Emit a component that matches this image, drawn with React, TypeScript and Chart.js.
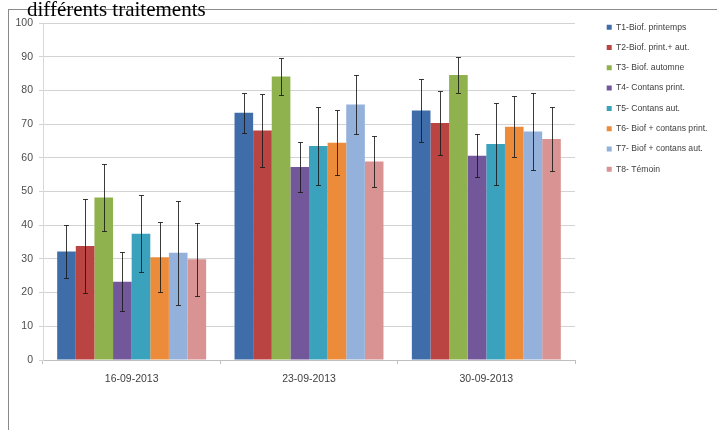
import React, { useEffect, useRef } from "react";
import { Chart, registerables } from "chart.js";

Chart.register(...registerables);

const categories = ["16-09-2013", "23-09-2013", "30-09-2013"];

const seriesLabels = [
  "T1-Biof. printemps",
  "T2-Biof. print.+ aut.",
  "T3- Biof. automne",
  "T4- Contans print.",
  "T5- Contans aut.",
  "T6- Biof + contans print.",
  "T7- Biof + contans aut.",
  "T8- Témoin",
];

const seriesColors = [
  "#3F6DAA",
  "#B94442",
  "#8FB24E",
  "#73579B",
  "#3AA2BD",
  "#EC8C3A",
  "#94B1DB",
  "#D89392",
];

const t1Values = [32.2, 73.4, 74.0];
const t2Values = [33.8, 68.1, 70.3];
const t3Values = [48.2, 84.1, 84.6];
const t4Values = [23.2, 57.3, 60.6];
const t5Values = [37.5, 63.5, 64.1];
const t6Values = [30.5, 64.5, 69.2];
const t7Values = [31.8, 75.8, 67.8];
const t8Values = [29.9, 58.9, 65.6];

const t1Errors = [7.9, 5.9, 9.3];
const t2Errors = [14.0, 10.9, 9.4];
const t3Errors = [10.0, 5.6, 5.4];
const t4Errors = [8.7, 7.5, 6.4];
const t5Errors = [11.5, 11.6, 12.2];
const t6Errors = [10.4, 9.7, 9.0];
const t7Errors = [15.5, 8.8, 11.5];
const t8Errors = [10.8, 7.5, 9.4];

const yTicks = [0, 10, 20, 30, 40, 50, 60, 70, 80, 90, 100];

const seriesValues = [t1Values, t2Values, t3Values, t4Values, t5Values, t6Values, t7Values, t8Values];
const seriesErrors = [t1Errors, t2Errors, t3Errors, t4Errors, t5Errors, t6Errors, t7Errors, t8Errors];

const errorBarPlugin = {
  id: "errorBars",
  afterDatasetsDraw(chart: any) {
    const { ctx } = chart;
    const yScale = chart.scales.y;
    ctx.save();
    ctx.strokeStyle = "rgba(25,25,25,0.85)";
    ctx.lineWidth = 1;
    chart.data.datasets.forEach((ds: any, i: number) => {
      const meta = chart.getDatasetMeta(i);
      const errs = seriesErrors[i];
      meta.data.forEach((bar: any, j: number) => {
        const v = ds.data[j] as number;
        const e = errs[j];
        const x = Math.round(bar.x) + 0.5;
        const yTop = Math.round(yScale.getPixelForValue(v + e)) + 0.5;
        const yBot = Math.round(yScale.getPixelForValue(v - e)) + 0.5;
        ctx.beginPath();
        ctx.moveTo(x, yTop);
        ctx.lineTo(x, yBot);
        ctx.moveTo(x - 2.5, yTop);
        ctx.lineTo(x + 2.5, yTop);
        ctx.moveTo(x - 2.5, yBot);
        ctx.lineTo(x + 2.5, yBot);
        ctx.stroke();
      });
    });
    ctx.restore();
  },
};

const tickFont = { family: "'Liberation Sans', Arial, sans-serif", size: 10.5 };

export default function App() {
  const canvasRef = useRef<HTMLCanvasElement | null>(null);

  useEffect(() => {
    if (!canvasRef.current) return;
    const chart = new Chart(canvasRef.current, {
      type: "bar",
      data: {
        labels: categories,
        datasets: seriesLabels.map((label, i) => ({
          label,
          data: seriesValues[i],
          backgroundColor: seriesColors[i],
          borderWidth: 0,
          yAxisID: "y",
        })),
      },
      options: {
        animation: false,
        responsive: true,
        maintainAspectRatio: false,
        layout: { padding: { top: 11.2, right: 26, bottom: 0, left: 0 } },
        datasets: { bar: { categoryPercentage: 0.84, barPercentage: 1 } },
        plugins: {
          title: {
            display: true,
            text: " ",
            fullSize: false,
            padding: 0,
            font: { size: 10, lineHeight: 1.18 },
          },
          legend: {
            position: "right",
            align: "start",
            labels: {
              boxWidth: 5,
              boxHeight: 5,
              padding: 11.7,
              color: "#404040",
              font: { family: "'Liberation Sans', Arial, sans-serif", size: 8.6 },
            },
          },
          tooltip: { enabled: false },
        },
        scales: {
          x: {
            grid: {
              display: true,
              drawOnChartArea: false,
              offset: true,
              tickLength: 4,
              color: "#bfbfbf",
            },
            border: { color: "#bfbfbf" },
            ticks: { padding: 8.5, color: "#404040", font: tickFont },
            afterFit: (s: any) => {
              s.height = 70;
            },
          },
          y: {
            min: 0,
            max: 100,
            afterBuildTicks: (s: any) => {
              s.ticks = yTicks.map((v) => ({ value: v }));
            },
            ticks: { padding: 6, color: "#4d4d4d", font: tickFont },
            grid: { color: "#d3d3d3", tickLength: 4 },
            border: { color: "#d9d9d9" },
            afterFit: (s: any) => {
              s.width = 43;
            },
          },
          sp: {
            type: "linear",
            axis: "y",
            position: "right",
            display: true,
            grid: { display: false },
            border: { display: false },
            ticks: { display: false },
            afterFit: (s: any) => {
              s.width = 20;
            },
          },
        } as any,
      },
      plugins: [errorBarPlugin],
    });
    return () => chart.destroy();
  }, []);

  return (
    <div
      style={{
        position: "fixed",
        left: 0,
        top: 0,
        width: 717,
        height: 430,
        overflow: "hidden",
        background: "#fff",
      }}
    >
      <div
        style={{
          position: "absolute",
          left: 8,
          top: 9,
          width: 800,
          height: 500,
          borderLeft: "1px solid #8a8a8a",
          borderTop: "1px solid #8a8a8a",
        }}
      />
      <div style={{ position: "absolute", left: 0, top: 0, width: 740, height: 430 }}>
        <canvas ref={canvasRef} />
      </div>
      <div
        style={{
          position: "absolute",
          left: 27,
          top: -1,
          font: "21px/21px 'Liberation Serif', 'Times New Roman', serif",
          color: "#000",
          whiteSpace: "nowrap",
        }}
      >
        différents traitements
      </div>
    </div>
  );
}
